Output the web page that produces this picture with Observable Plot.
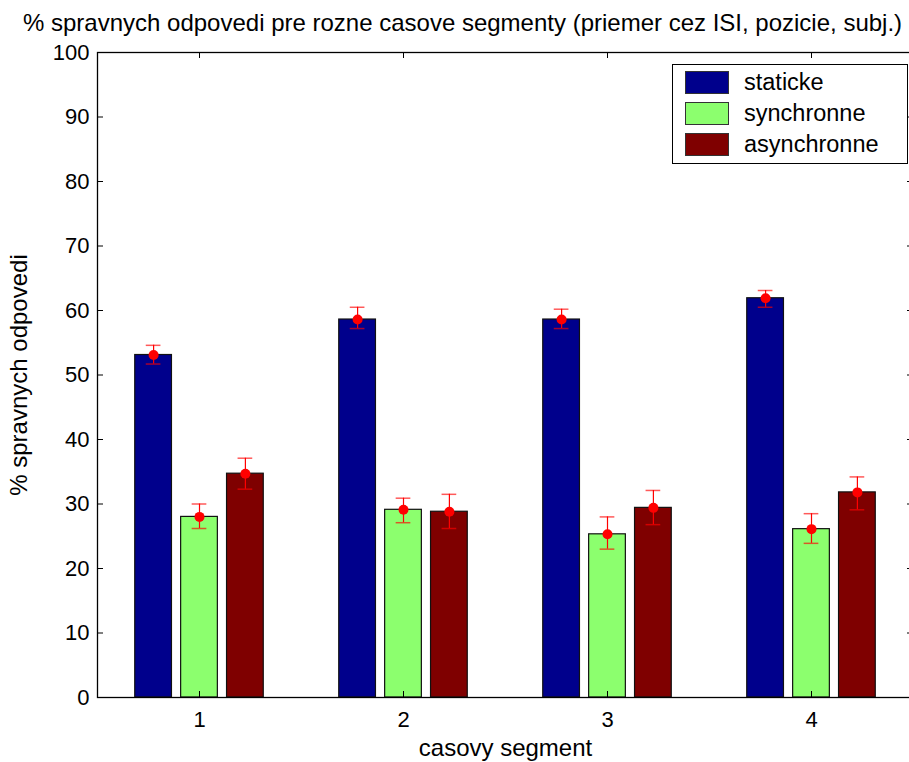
<!DOCTYPE html>
<html>
<head>
<meta charset="utf-8">
<script src="https://cdn.jsdelivr.net/npm/d3@7"></script>
<script src="https://cdn.jsdelivr.net/npm/@observablehq/plot@0.6"></script>
<style>
  html, body { margin: 0; padding: 0; background: #fff; overflow: hidden; width: 909px; height: 762px; }
  #wrap { position: relative; width: 909px; height: 762px; overflow: hidden; font-family: "Liberation Sans", Arial, sans-serif; }
  #title { position: absolute; top: 11px; left: 23px; font-size: 24px; line-height: 1; white-space: nowrap; color: #000; }
  #chart { position: absolute; top: 40px; left: 0; width: 913px; }
  #chart svg { max-width: none !important; }
  #legend { position: absolute; left: 672px; top: 64px; width: 234px; height: 98px; border: 1px solid #000; background: #fff; }
  .li { position: absolute; left: 12px; height: 23px; display: flex; align-items: center; font-size: 23.5px; }
  .sw { width: 42px; height: 21px; border: 1px solid #333; margin-right: 15px; }
</style>
</head>
<body>
<div id="wrap">
  <div id="chart"></div>
  <div id="title">% spravnych odpovedi pre rozne casove segmenty (priemer cez ISI, pozicie, subj.)</div>
  <div id="legend"></div>
</div>
<script>
// ---- data ----
const segments = [1, 2, 3, 4];
const seriesNames = ["staticke", "synchronne", "asynchronne"];
const seriesColors = ["#00008c", "#8cff6e", "#7f0000"];

const statickeMean = [53.1, 58.6, 58.6, 61.9];
const statickeLo   = [51.7, 57.2, 57.2, 60.5];
const statickeHi   = [54.6, 60.5, 60.2, 63.1];

const synchronneMean = [28.0, 29.1, 25.3, 26.1];
const synchronneLo   = [26.2, 27.1, 23.0, 23.9];
const synchronneHi   = [30.0, 30.9, 28.0, 28.5];

const asynchronneMean = [34.7, 28.8, 29.4, 31.8];
const asynchronneLo   = [32.3, 26.2, 26.8, 29.1];
const asynchronneHi   = [37.1, 31.5, 32.1, 34.2];

const yTicks = [0, 10, 20, 30, 40, 50, 60, 70, 80, 90, 100];
const xTicks = [1, 2, 3, 4];

// ---- table built from arrays ----
const means = [statickeMean, synchronneMean, asynchronneMean];
const los = [statickeLo, synchronneLo, asynchronneLo];
const his = [statickeHi, synchronneHi, asynchronneHi];
const offsets = [-0.225, 0, 0.225];
const barW = 0.18;
const capW = 0.036;
const xDomain = [0.5, 4.5];
const tickLenX = 6 / 204;
const tickLenY = 6 / 6.45;

const rows = [];
seriesNames.forEach((s, i) => {
  segments.forEach((g, j) => {
    const c = g + offsets[i];
    rows.push({series: s, color: seriesColors[i], x: c, x1: c - barW / 2, x2: c + barW / 2,
               mean: means[i][j], lo: los[i][j], hi: his[i][j]});
  });
});

const chart = Plot.plot({
  width: 913,
  height: 722,
  marginLeft: 97,
  marginRight: 0,
  marginTop: 12,
  marginBottom: 65,
  style: {fontFamily: "Liberation Sans, Arial, sans-serif", fontSize: "22px", background: "white", overflow: "visible", maxWidth: "none"},
  x: {type: "linear", domain: xDomain, ticks: xTicks, tickFormat: d => String(d)},
  y: {domain: [0, 100], ticks: yTicks},
  marks: [
    Plot.rectY(rows, {x1: "x1", x2: "x2", y1: 0, y2: "mean", fill: "color", stroke: "#111", strokeWidth: 1.2}),
    Plot.ruleX(rows, {x: "x", y1: "lo", y2: "hi", stroke: "#ff0000", strokeWidth: 1.2}),
    Plot.ruleY(rows, {y: "hi", x1: d => d.x - capW, x2: d => d.x + capW, stroke: "#ff0000", strokeOpacity: 0.65, strokeWidth: 1.5}),
    Plot.ruleY(rows, {y: "lo", x1: d => d.x - capW, x2: d => d.x + capW, stroke: "#ff0000", strokeOpacity: 0.65, strokeWidth: 1.5}),
    Plot.dot(rows, {x: "x", y: "mean", r: 5, fill: "#ff0000", stroke: "none"}),
    // inward tick marks
    Plot.ruleY(yTicks, {y: d => d, x1: xDomain[0], x2: xDomain[0] + tickLenX, stroke: "black"}),
    Plot.ruleY(yTicks, {y: d => d, x1: xDomain[1] - tickLenX, x2: xDomain[1], stroke: "black"}),
    Plot.ruleX(xTicks, {x: d => d, y1: 0, y2: tickLenY, stroke: "black"}),
    Plot.ruleX(xTicks, {x: d => d, y1: 100 - tickLenY, y2: 100, stroke: "black"}),
    Plot.frame({stroke: "black", strokeWidth: 1.3}),
    Plot.axisY({ticks: yTicks, tickSize: 0, tickPadding: 8, fontSize: 22, label: null}),
    Plot.axisX({ticks: xTicks, tickSize: 0, tickPadding: 14, fontSize: 22, tickFormat: d => String(d), label: null}),
    Plot.axisY({ticks: [], tickSize: 0, fontSize: 24,
      label: "% spravnych odpovedi", labelAnchor: "center", labelOffset: 88, labelArrow: "none"}),
    Plot.axisX({ticks: [], tickSize: 0, fontSize: 24,
      label: "casovy segment", labelAnchor: "center", labelOffset: 58, labelArrow: "none"})
  ]
});
document.getElementById("chart").appendChild(chart);

// legend (HTML overlay)
const legend = document.getElementById("legend");
const legTops = [6, 37, 68];
seriesNames.forEach((s, i) => {
  const item = document.createElement("div");
  item.className = "li";
  item.style.top = legTops[i] + "px";
  const sw = document.createElement("div");
  sw.className = "sw";
  sw.style.background = seriesColors[i];
  const t = document.createElement("span");
  t.textContent = s;
  item.appendChild(sw);
  item.appendChild(t);
  legend.appendChild(item);
});
</script>
</body>
</html>
